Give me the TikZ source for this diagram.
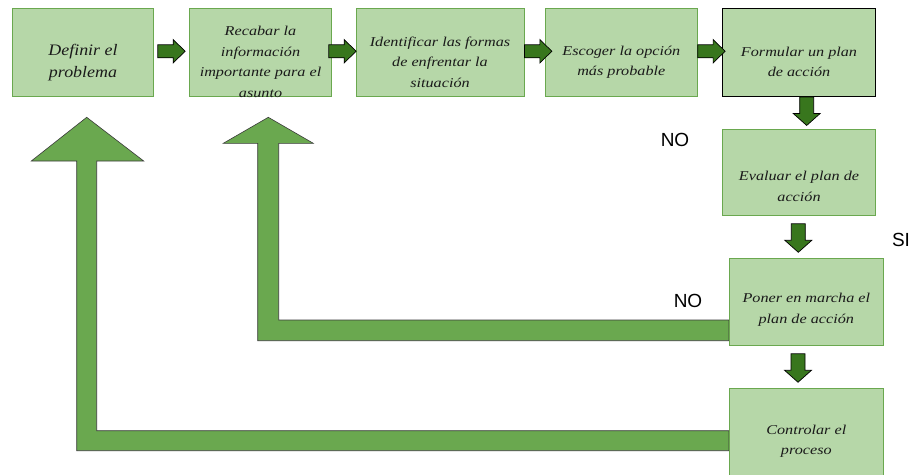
\documentclass[tikz,border=0pt]{standalone}
\usepackage{fontspec}
\setmainfont{Liberation Serif}
\newfontfamily\stepfont[FakeStretch=1.2]{Liberation Serif}
\newfontfamily\firstfont[FakeStretch=1.12]{Liberation Serif}
\newfontfamily\labelfont{Liberation Sans}
\usetikzlibrary{calc}
\pgfdeclarelayer{background}
\pgfsetlayers{background,main}
\definecolor{boxfill}{HTML}{B6D7A8}
\definecolor{boxline}{HTML}{6AA84F}
\definecolor{loopfill}{HTML}{6AA84F}
\definecolor{loopline}{HTML}{3A3A3A}
\definecolor{flowfill}{HTML}{38761D}
\definecolor{steptxt}{HTML}{1A1A1A}

% small block arrows: start point is the middle of the tail
\newcommand\rightblock[1]{%
  \draw[flowarrow] #1 ++(0,-6.5) -- ++(15.4,0) -- ++(0,-5.2) -- ++(12,11.7)
    -- ++(-12,11.7) -- ++(0,-5.2) -- ++(-15.4,0) -- cycle;}
\newcommand\downblock[1]{%
  \draw[flowarrow] #1 ++(-7,0) -- ++(14,0) -- ++(0,16.5) -- ++(6.5,0)
    -- ++(-13.5,12) -- ++(-13.5,-12) -- ++(6.5,0) -- cycle;}

\begin{document}
\begin{tikzpicture}[x=1pt,y=-1pt,
  stepbox/.style={draw=boxline, fill=boxfill, line width=0.9pt, inner sep=0pt,
    minimum height=88.5pt},
  steptext/.style={text=steptxt, align=center, inner sep=0pt,
    font=\stepfont\itshape\fontsize{13.5}{20.5}\selectfont},
  flowarrow/.style={draw=black, fill=flowfill, line width=0.7pt, line join=miter},
  looparrow/.style={draw=loopline, fill=loopfill, line width=0.6pt, line join=miter},
  answer/.style={font=\labelfont\fontsize{19}{22}\selectfont, text=black, inner sep=0pt}]

\useasboundingbox (0,0) rectangle (915,474);

% process steps
\node[stepbox, minimum width=141.4pt] (b1) at (83,52.25) {};
\node[stepbox, minimum width=142.4pt] (b2) at (260.5,52.25) {};
\node[stepbox, minimum width=168pt]   (b3) at (440,52.25) {};
\node[stepbox, minimum width=152.7pt] (b4) at (621.3,52.25) {};
\node[stepbox, minimum width=153.4pt, draw=black] (b5) at (799,52.25) {};
\node[stepbox, minimum width=153.4pt, minimum height=86.3pt] (b6) at (799,172.2) {};
\node[stepbox, minimum width=154pt, minimum height=87pt] (b7) at (806.3,301.8) {};
\node[stepbox, minimum width=154pt, minimum height=88pt] (b8) at (806.3,432.3) {};

\node[steptext, font=\firstfont\itshape\fontsize{16}{22}\selectfont] (t1)
  at ($(b1.center)+(0,10.5)$) {Definir el\\problema};
\node[steptext] (t2) at ($(b2.center)+(0,9.75)$)
  {Recabar la\\información\\importante para el\\asunto};
\node[steptext] (t3) at ($(b3.center)+(0,9.75)$)
  {Identificar las formas\\de enfrentar la\\situación};
\node[steptext] (t4) at ($(b4.center)+(0,9.75)$) {Escoger la opción\\más probable};
\node[steptext] (t5) at ($(b5.center)+(0,9.75)$) {Formular un plan\\de acción};
\node[steptext] (t6) at ($(b6.center)+(0,14)$) {Evaluar el plan de\\acción};
\node[steptext] (t7) at ($(b7.center)+(0,8)$) {Poner en marcha el\\plan de acción};
\node[steptext] (t8) at ($(b8.center)+(0,9)$) {Controlar el\\proceso};

% forward arrows
\rightblock{($(b1.east)+(3.6,-1)$)}
\rightblock{($(b2.east)+(-3.4,-1)$)}
\rightblock{($(b3.east)+(0,-1)$)}
\rightblock{($(b4.east)+(-0.4,-1)$)}
\downblock{($(b5.south)+(7.7,0)$)}
\downblock{($(b6.south)+(-0.7,8)$)}
\downblock{($(b7.south)+(-8.3,8)$)}

% decision answers
\node[answer] (no1) at (675,140) {NO};
\node[answer] (si)  at (901,239.5) {SI};
\node[answer] (no2) at (688,301) {NO};

% feedback arrows behind the steps
\coordinate (ya) at (0,430.7);
\coordinate (yb) at (0,450.7);
\coordinate (yc) at (0,320);
\coordinate (yd) at (0,340.7);
\begin{pgfonlayer}{background}
\draw[looparrow] (b8.west |- ya) -- (96.7,430.7) -- (96.7,161) -- (143.7,161)
  -- (86.7,117.3) -- (31.3,161) -- (76.7,161) -- (76.7,450.7) -- (b8.west |- yb) -- cycle;
\draw[looparrow] (b7.west |- yc) -- (278.7,320) -- (278.7,143.3) -- (313.3,143.3)
  -- (268.3,117.3) -- (223.3,143.3) -- (257.7,143.3) -- (257.7,340.7) -- (b7.west |- yd) -- cycle;
\end{pgfonlayer}
\end{tikzpicture}
\end{document}
